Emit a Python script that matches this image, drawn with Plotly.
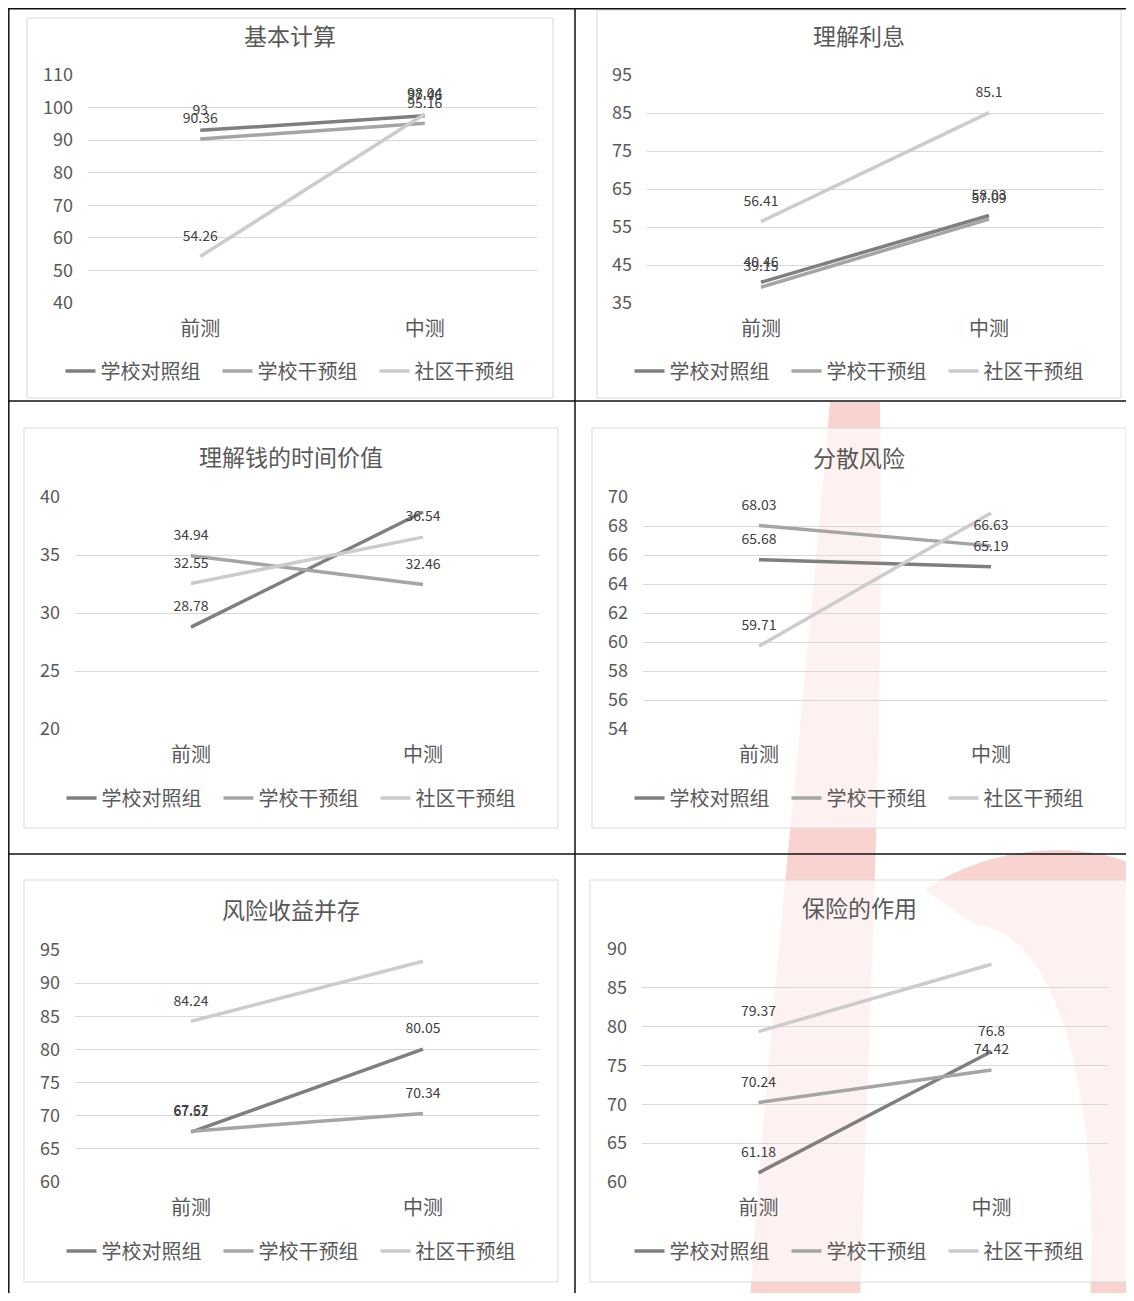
import plotly.graph_objects as go

# page body keeps an 8px margin, so the figure is drawn inside it
PAGE_W, PAGE_H = 1134, 1301
OFF = 8
W, H = PAGE_W - 2 * OFF, PAGE_H - 2 * OFF

categories = ["前测", "中测"]
groups = ["学校对照组", "学校干预组", "社区干预组"]
titles = ["基本计算", "理解利息", "理解钱的时间价值", "分散风险", "风险收益并存", "保险的作用"]

# values per chart: [前测, 中测]
school_control = [[93, 97.46], [40.46, 58.03], [28.78, 38.71], [65.68, 65.19], [67.52, 80.05], [61.18, 76.8]]
school_interv = [[90.36, 95.16], [39.15, 57.09], [34.94, 32.46], [68.03, 66.63], [67.67, 70.34], [70.24, 74.42]]
community_interv = [[54.26, 98.04], [56.41, 85.1], [32.55, 36.54], [59.71, 68.9], [84.24, 93.3], [79.37, 88.04]]

y_min = [40, 35, 20, 54, 60, 60]
y_max = [110, 95, 40, 70, 95, 90]
y_step = [10, 10, 5, 2, 5, 5]

colors = ["#7f7f7f", "#a5a5a5", "#cccccc"]
FONT = "Noto Sans CJK SC"

# pixel geometry (page coords) of each panel: plot area (x0, x1, ytop, ybottom) and outer box
plot_px = [(88, 537, 75, 303), (647, 1103, 75, 303),
           (75, 539, 497, 729), (643, 1107, 497, 729),
           (75, 539, 950, 1182), (642, 1108, 949, 1182)]
box_px = [(27, 18, 553, 398), (597, 10, 1121, 398),
          (24, 428, 558, 828), (592, 428, 1126, 828),
          (24, 880, 558, 1282), (590, 880, 1128, 1282)]
title_y = [35, 35, 456, 457, 909, 907]
legend_y = [371, 371, 798, 798, 1251, 1251]


def fx(x):
    return (x - OFF) / W


def fy(y):
    return 1 - (y - OFF) / H


fig = go.Figure()
shapes = []
annotations = []
layout = {}

# faint red watermark behind the charts
wm = "rgba(232,70,60,0.24)"
shapes.append(dict(type="path", xref="paper", yref="paper", layer="below", line_width=0, fillcolor=wm,
                   path=f"M {fx(830)},{fy(402)} C {fx(805)},{fy(700)} {fx(770)},{fy(1000)} {fx(750)},{fy(1301)} "
                        f"L {fx(860)},{fy(1301)} C {fx(870)},{fy(1000)} {fx(885)},{fy(700)} {fx(880)},{fy(402)} Z"))
shapes.append(dict(type="path", xref="paper", yref="paper", layer="below", line_width=0, fillcolor=wm,
                   path=f"M {fx(925)},{fy(890)} C {fx(990)},{fy(845)} {fx(1080)},{fy(840)} {fx(1134)},{fy(865)} "
                        f"L {fx(1134)},{fy(1301)} L {fx(1090)},{fy(1301)} C {fx(1100)},{fy(1100)} {fx(1060)},{fy(930)} {fx(975)},{fy(925)} Z"))

for i in range(6):
    ax = "" if i == 0 else str(i + 1)
    x0, x1, yt, yb = plot_px[i]
    bx0, by0, bx1, by1 = box_px[i]

    shapes.append(dict(type="rect", xref="paper", yref="paper", layer="below",
                       x0=fx(bx0), x1=fx(bx1), y0=fy(by1), y1=fy(by0),
                       line=dict(color="#d9d9d9", width=1), fillcolor="rgba(255,255,255,0.7)"))

    for g, series in enumerate([school_control, school_interv, community_interv]):
        vals = series[i]
        fig.add_trace(go.Scatter(
            x=categories, y=vals, name=groups[g], mode="lines",
            line=dict(color=colors[g], width=3.5),
            xaxis="x" + ax, yaxis="y" + ax, legend="legend" + ax, hoverinfo="skip",
        ))
    for g, series in enumerate([school_control, school_interv, community_interv]):
        vals = series[i]
        fig.add_trace(go.Scatter(
            x=categories, y=vals, mode="markers+text", showlegend=False,
            marker=dict(size=18, opacity=0),
            text=[f"{v:g}" for v in vals], textposition="top center",
            textfont=dict(size=14, color="#404040", family=FONT),
            xaxis="x" + ax, yaxis="y" + ax, hoverinfo="skip",
        ))

    layout["xaxis" + ax] = dict(
        domain=[fx(x0), fx(x1)], anchor="y" + ax, type="category", automargin=False,
        range=[-0.5, 1.5], showgrid=False, showline=False, zeroline=False, ticks="",
        tickfont=dict(size=20, color="#595959", family=FONT), ticklabelstandoff=12,
    )
    layout["yaxis" + ax] = dict(
        domain=[fy(yb), fy(yt)], anchor="x" + ax, automargin=False,
        range=[y_min[i], y_max[i]], tick0=y_min[i], dtick=y_step[i],
        showgrid=True, gridcolor="#d9d9d9", gridwidth=1, showline=False, zeroline=False, ticks="",
        tickfont=dict(size=18, color="#595959", family=FONT), ticklabelstandoff=14,
    )
    layout["legend" + ax] = dict(
        orientation="h", x=fx((bx0 + bx1) / 2 + 6), xanchor="center",
        y=fy(legend_y[i]), yanchor="middle", bgcolor="rgba(0,0,0,0)",
        font=dict(size=20, color="#595959", family=FONT),
        entrywidth=112, entrywidthmode="pixels",
    )
    annotations.append(dict(
        text=titles[i], xref="paper", yref="paper", x=fx((bx0 + bx1) / 2), y=fy(title_y[i]),
        xanchor="center", yanchor="middle", showarrow=False,
        font=dict(size=23, color="#595959", family=FONT),
    ))

# table borders (top rule sits at the very top of the drawable page)
for (lx0, ly0, lx1, ly1) in [(8, 8.8, 1134, 8.8), (8.8, 8, 8.8, 1301), (575, 8, 575, 1301),
                             (8, 401, 1134, 401), (8, 854, 1134, 854)]:
    shapes.append(dict(type="line", xref="paper", yref="paper",
                       x0=fx(lx0), x1=fx(lx1), y0=fy(ly0), y1=fy(ly1),
                       line=dict(color="#111111", width=1.5)))

fig.update_layout(
    width=W, height=H, margin=dict(l=0, r=0, t=0, b=0),
    paper_bgcolor="white", plot_bgcolor="rgba(0,0,0,0)",
    font=dict(family=FONT, color="#595959"),
    shapes=shapes, annotations=annotations,
    **layout,
)

fig.write_html("out.html")
